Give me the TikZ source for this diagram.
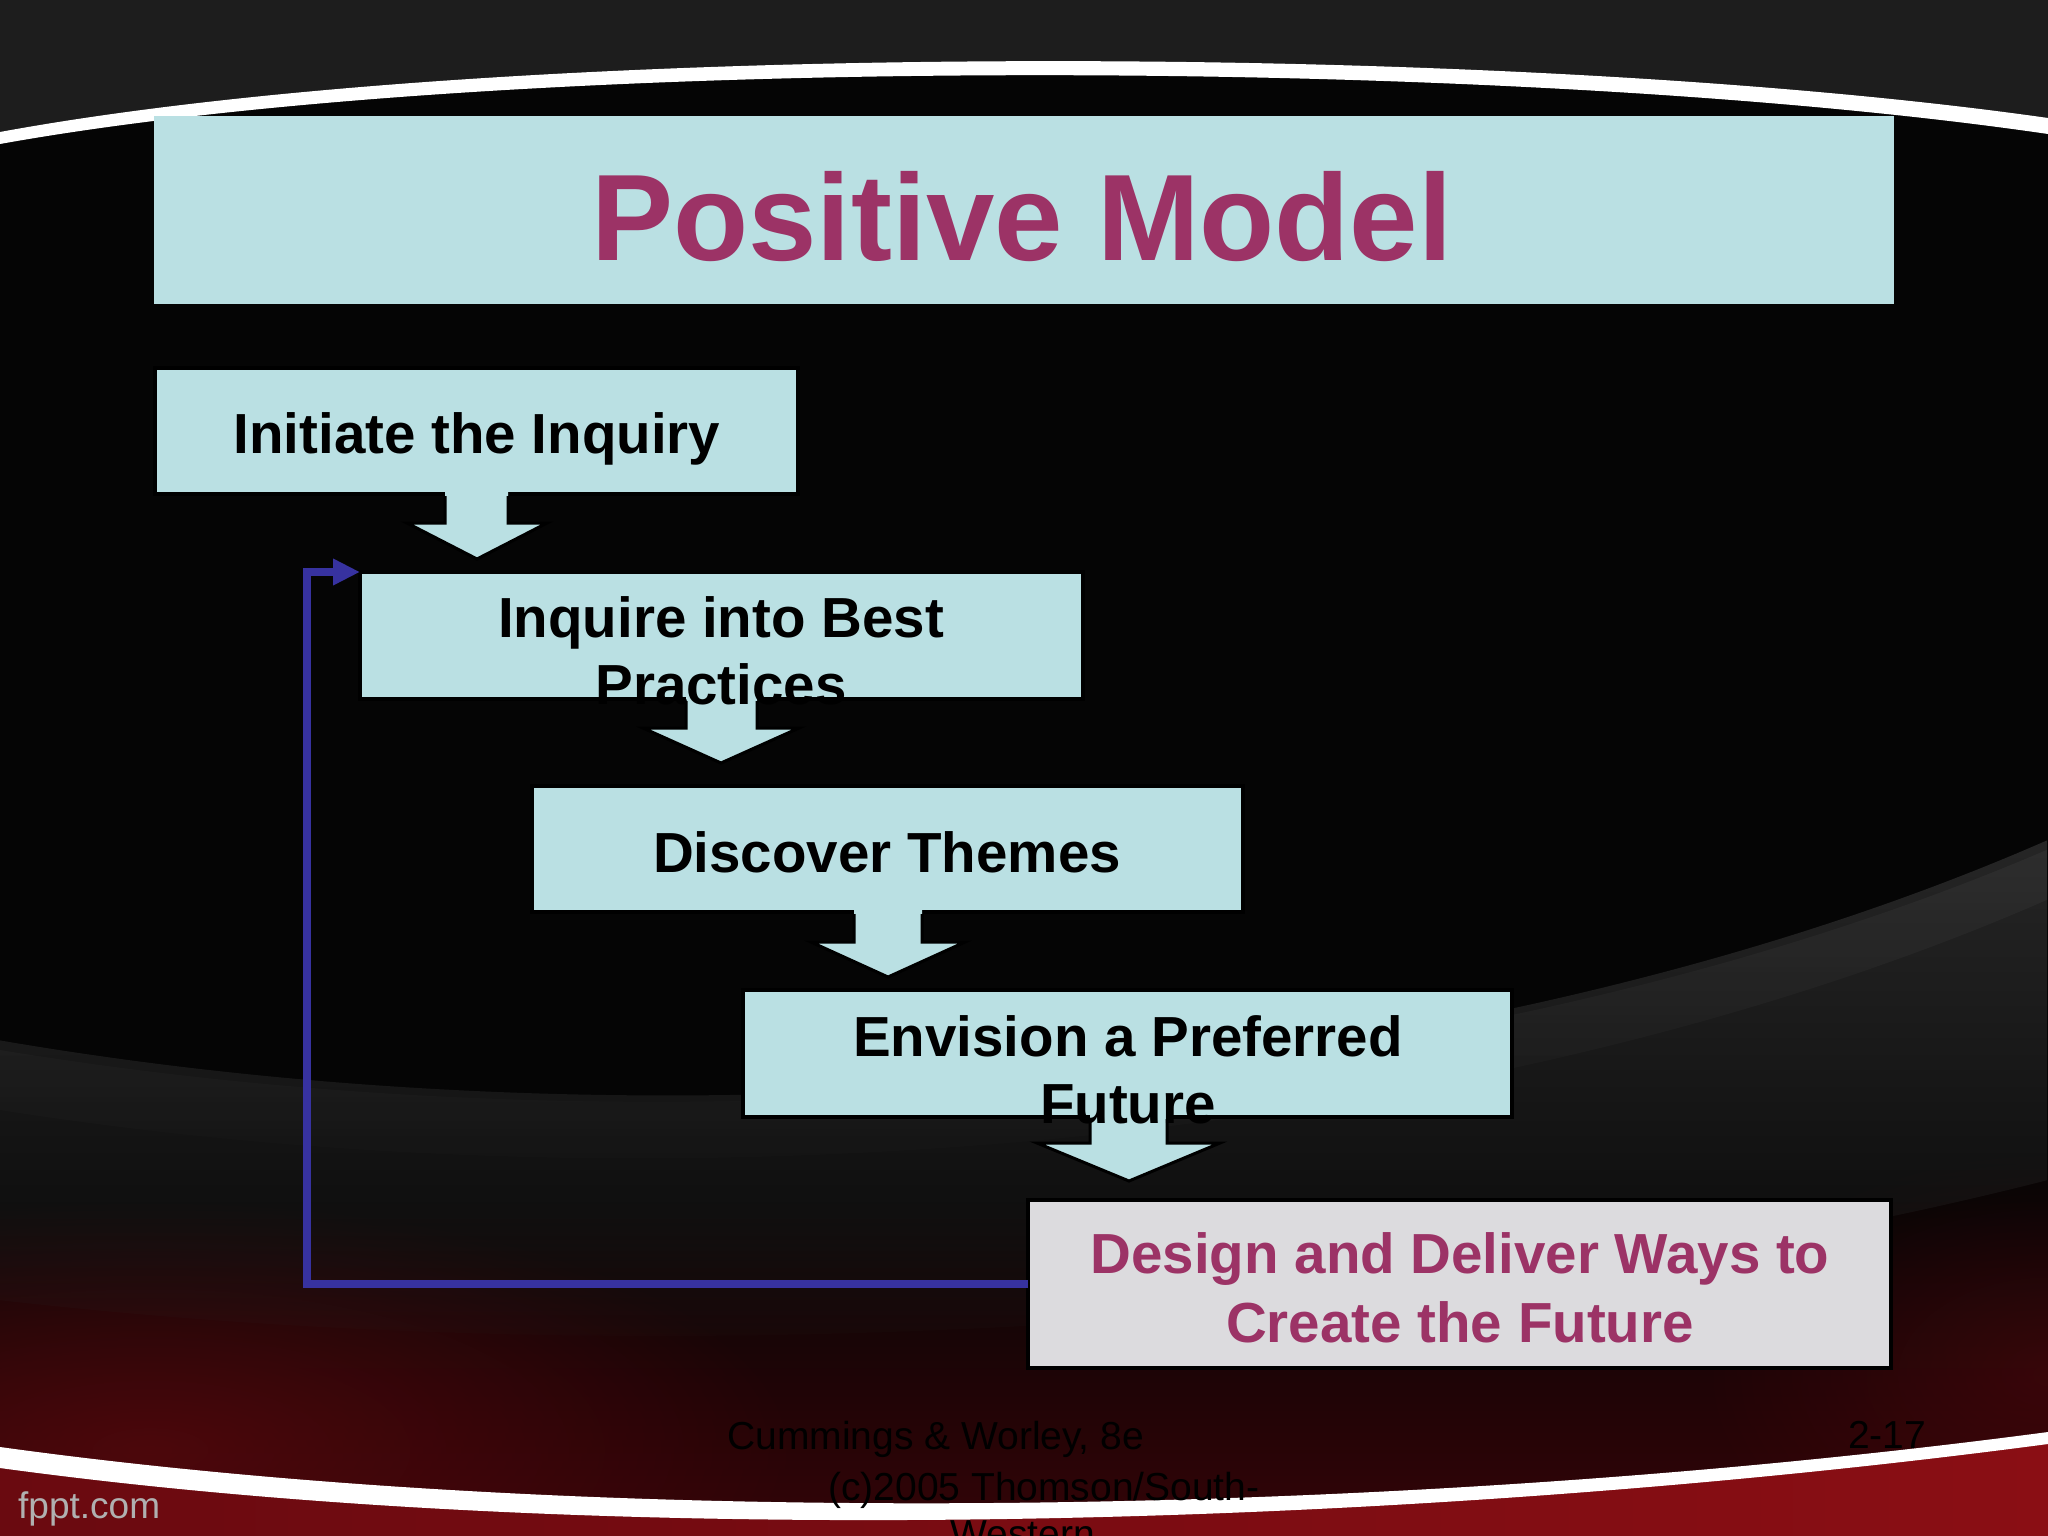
\documentclass[tikz,border=0pt]{standalone}
\usepackage{fontspec}
\setmainfont{Liberation Sans}
\usetikzlibrary{arrows.meta,fadings,calc}
\definecolor{cy}{HTML}{BAE0E3}
\definecolor{mag}{HTML}{9C3366}
\definecolor{fbblue}{HTML}{3732A0}
\definecolor{lgray}{HTML}{DCDBDE}
\definecolor{topgray}{HTML}{1D1D1D}
\definecolor{bgblack}{HTML}{050505}
\definecolor{swoosh}{HTML}{2C2C2C}
\definecolor{maroon}{HTML}{340407}
\definecolor{redl}{HTML}{6A0A10}
\definecolor{redm}{HTML}{C2161E}
\definecolor{redr}{HTML}{8A0E14}
\definecolor{fpptgray}{HTML}{B0B0B0}
\tikzfading[name=blobfade, inner color=transparent!0, outer color=transparent!100]
\begin{document}
\begin{tikzpicture}[x=1pt,y=-1pt,
  flowbox/.style={fill=cy, draw=black, line width=4pt, inner sep=0pt, outer sep=0pt, anchor=north west},
  lastbox/.style={flowbox, fill=lgray},
  titlebox/.style={fill=cy, inner sep=0pt, outer sep=0pt, anchor=north west},
  boxtxt/.style={font=\bfseries\fontsize{56.5}{68}\selectfont, text=black, inner sep=0pt, anchor=base},
  magtxt/.style={boxtxt, text=mag},
  titletxt/.style={font=\bfseries\fontsize{123}{140}\selectfont, text=mag, inner sep=0pt, anchor=base},
  foot/.style={font=\fontsize{39}{46}\selectfont, text=black, inner sep=0pt, anchor=base west},
  fppt/.style={font=\fontsize{37}{44}\selectfont, text=fpptgray, inner sep=0pt, anchor=base west},
  blockfill/.style={fill=cy},
  blockline/.style={draw=black, line width=3pt, line join=miter},
  fb/.style={draw=fbblue, line width=8pt, line join=miter, -{Triangle[length=27pt,width=25pt]}}
]
\useasboundingbox (0,0) rectangle (2048,1536);
% ---------- background ----------
\fill[bgblack] (0,0) rectangle (2048,1536);
\fill[topgray] (0,0) -- (2048,0) -- (2048,126) .. controls (1500,47) and (500,47) .. (0,138) -- cycle;
\fill[white] (0,132) .. controls (500,40) and (1500,40) .. (2048,118)
  -- (2048,134) .. controls (1500,54) and (500,54) .. (0,144) -- cycle;
% dark red lower area
\shade[top color=bgblack, bottom color=maroon] (0,1200) rectangle (2048,1536);
\fill[redl, opacity=0.55, path fading=blobfade] (-500,1200) rectangle (800,1700);
\fill[redl, opacity=0.35, path fading=blobfade] (1700,1150) rectangle (2400,1600);
% grey swoosh
\fill[swoosh, opacity=0.85, path fading=south] (0,1040) .. controls (700,1160) and (1500,1080) .. (2048,840)
  -- (2048,1180) .. controls (1500,1320) and (700,1380) .. (0,1300) -- cycle;
\fill[swoosh!80!white, opacity=0.18, path fading=south] (0,1050) .. controls (700,1165) and (1500,1085) .. (2048,850)
  -- (2048,900) .. controls (1500,1140) and (700,1220) .. (0,1110) -- cycle;
% bottom red + white band
\shade[left color=redl, middle color=redm, right color=redr]
  (0,1460) .. controls (600,1542) and (1400,1526) .. (2048,1440) -- (2048,1536) -- (0,1536) -- cycle;
\fill[white] (0,1447) .. controls (600,1530) and (1400,1518) .. (2048,1432)
  -- (2048,1444) .. controls (1400,1530) and (600,1550) .. (0,1468) -- cycle;
% ---------- title ----------
\node[titlebox, minimum width=1740pt, minimum height=188pt] (title) at (154,116) {};
\node[titletxt] (ttl) at (1022,260) {Positive Model};
% ---------- boxes ----------
\node[flowbox, minimum width=643pt, minimum height=126pt] (b1) at (155,368) {};
\node[flowbox, minimum width=723pt, minimum height=127pt] (b2) at (360,572) {};
\node[flowbox, minimum width=711pt, minimum height=126pt] (b3) at (532,786) {};
\node[flowbox, minimum width=769pt, minimum height=127pt] (b4) at (743,990) {};
\node[lastbox, minimum width=863pt, minimum height=168pt] (b5) at (1028,1200) {};
% ---------- block arrows ----------
\fill[blockfill] (445,491) -- (445,523) -- (407,523) -- (477,559) -- (547,523) -- (508,523) -- (508,491) -- cycle;
\draw[blockline] (445,496) -- (445,523) -- (407,523) -- (477,559) -- (547,523) -- (508,523) -- (508,496);
\fill[blockfill] (686,696) -- (686,728) -- (643,728) -- (721,763) -- (799,728) -- (757,728) -- (757,696) -- cycle;
\draw[blockline] (686,701) -- (686,728) -- (643,728) -- (721,763) -- (799,728) -- (757,728) -- (757,701);
\fill[blockfill] (854,909) -- (854,942) -- (811,942) -- (888,977) -- (965,942) -- (922,942) -- (922,909) -- cycle;
\draw[blockline] (854,914) -- (854,942) -- (811,942) -- (888,977) -- (965,942) -- (922,942) -- (922,914);
\fill[blockfill] (1090,1114) -- (1090,1143) -- (1037,1143) -- (1129,1181) -- (1220,1143) -- (1167,1143) -- (1167,1114) -- cycle;
\draw[blockline] (1090,1119) -- (1090,1143) -- (1037,1143) -- (1129,1181) -- (1220,1143) -- (1167,1143) -- (1167,1119);
% ---------- feedback connector ----------
\coordinate (fbx) at (307,0);
\draw[fb] (b5.west) -- (b5.west -| fbx) |- (b2.north west);
% ---------- box texts ----------
\node[boxtxt] (t1) at (477,453) {Initiate the Inquiry};
\node[boxtxt] (t2a) at (721,637) {Inquire into Best};
\node[boxtxt] (t2b) at (721,704) {Practices};
\node[boxtxt] (t3) at (887,872) {Discover Themes};
\node[boxtxt] (t4a) at (1128,1056) {Envision a Preferred};
\node[boxtxt] (t4b) at (1128,1123) {Future};
\node[magtxt] (t5a) at (1460,1273) {Design and Deliver Ways to};
\node[magtxt] (t5b) at (1460,1342) {Create the Future};
% ---------- footer ----------
\node[foot] (f1) at (727,1449) {Cummings \& Worley, 8e};
\node[foot] (f2) at (828,1500) {(c)2005 Thomson/South-};
\node[foot] (f3) at (950,1547) {Western};
\node[foot] (pg) at (1848,1448) {2-17};
\node[fppt] (fp) at (18,1518) {fppt.com};
\end{tikzpicture}
\end{document}
